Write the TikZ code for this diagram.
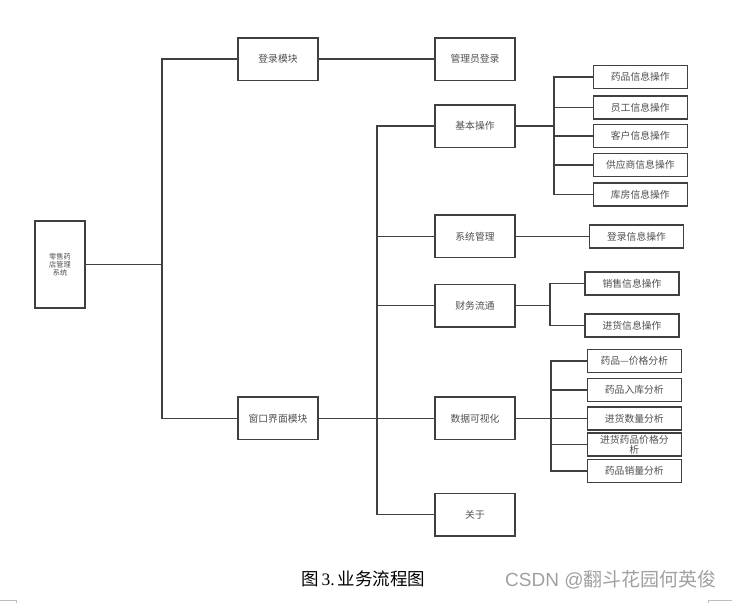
\documentclass[tikz,border=0pt]{standalone}
\usepackage{fontspec}
\setmainfont{Noto Sans CJK SC}
\newfontfamily\cjk{Noto Sans CJK SC}
\newfontfamily\latinserif{Liberation Serif}
\newfontfamily\latinsans{Liberation Sans}
\definecolor{lineclr}{RGB}{64,64,64}
\definecolor{txtclr}{RGB}{80,80,80}
\definecolor{wmclr}{RGB}{160,160,160}
\definecolor{markclr}{RGB}{190,190,190}
\tikzset{
  boxbase/.style={draw=lineclr, line width=1.5pt, fill=white, inner sep=0pt, align=center,
    text=txtclr, font=\cjk\fontsize{9.8}{9.6}\selectfont},
  rootbox/.style={boxbase, minimum width=50pt, minimum height=87pt, font=\cjk\fontsize{7.2}{8}\selectfont},
  midbox/.style={boxbase, minimum width=80pt, minimum height=42.5pt},
  leafbox/.style={boxbase, minimum width=94pt, minimum height=23pt},
  conn/.style={draw=lineclr, line width=1.5pt},
  cornermark/.style={draw=markclr, line width=0.8pt}
}
\begin{document}
\begin{tikzpicture}[x=1pt,y=-1pt]
\useasboundingbox (0,0) rectangle (732,603);
% root
\node[rootbox] (root) at (60,264.5) {零售药\\店管理\\系统};
% level 1
\node[midbox] (dl) at (278,59) {登录模块};
\node[midbox] (ck) at (278,418.3) {窗口界面模块};
\node[midbox] (gl) at (475,59) {管理员登录};
% level 2
\node[midbox] (jb) at (475,126) {基本操作};
\node[midbox] (xt) at (475,236.3) {系统管理};
\node[midbox] (cw) at (475,305.5) {财务流通};
\node[midbox] (sj) at (475,418.3) {数据可视化};
\node[midbox] (gy) at (475,514.7) {关于};
% leaves of 基本操作
\node[leafbox] (a1) at (640.3,76.8) {药品信息操作};
\node[leafbox] (a2) at (640.3,107.7) {员工信息操作};
\node[leafbox] (a3) at (640.3,135.8) {客户信息操作};
\node[leafbox] (a4) at (640.3,165.2) {供应商信息操作};
\node[leafbox] (a5) at (640.3,194.5) {库房信息操作};
% leaf of 系统管理
\node[leafbox, minimum width=93.6pt] (b1) at (636.5,236.3) {登录信息操作};
% leaves of 财务流通
\node[leafbox] (c1) at (632,283.3) {销售信息操作};
\node[leafbox] (c2) at (632,325.7) {进货信息操作};
% leaves of 数据可视化
\node[leafbox] (e1) at (634.3,361.2) {药品—价格分析};
\node[leafbox] (e2) at (634.3,389.8) {药品入库分析};
\node[leafbox] (e3) at (634.3,418.3) {进货数量分析};
\node[leafbox] (e4) at (634.3,444.7) {进货药品价格分\\析};
\node[leafbox] (e5) at (634.3,471.2) {药品销量分析};
% junction coordinates
\coordinate (t1) at (162,264.5);
\coordinate (t2) at (377,418.3);
\coordinate (bA) at (554,126);
\coordinate (bC) at (550,305.5);
\coordinate (bD) at (551,418.3);
% connectors
\draw[conn] (root.east) -- (t1);
\draw[conn] (dl.west) -| (t1) |- (ck.west);
\draw[conn] (dl.east) -- (gl.west);
\draw[conn] (ck.east) -- (sj.west);
\draw[conn] (jb.west) -| (t2) |- (gy.west);
\draw[conn] (xt.west) -- (xt.west -| t2);
\draw[conn] (cw.west) -- (cw.west -| t2);
\draw[conn] (jb.east) -- (bA);
\draw[conn] (a1.west) -| (bA) |- (a5.west);
\draw[conn] (a2.west) -- (a2.west -| bA);
\draw[conn] (a3.west) -- (a3.west -| bA);
\draw[conn] (a4.west) -- (a4.west -| bA);
\draw[conn] (xt.east) -- (b1.west);
\draw[conn] (cw.east) -- (bC);
\draw[conn] (c1.west) -| (bC) |- (c2.west);
\draw[conn] (sj.east) -- (e3.west);
\draw[conn] (e1.west) -| (bD) |- (e5.west);
\draw[conn] (e2.west) -- (e2.west -| bD);
\draw[conn] (e4.west) -- (e4.west -| bD);
% caption and watermark
\node[anchor=west, inner sep=0pt, font=\cjk\fontsize{17.5}{19}\selectfont, text=black] (cap) at (301,579) {图\,{\latinserif 3.}\,业务流程图};
\node[anchor=west, inner sep=0pt, text=wmclr, font=\fontsize{19}{21}\selectfont] (wm) at (505,580) {{\latinsans CSDN @}\cjk 翻斗花园何英俊};
% page corner marks
\coordinate (m1) at (0,600.5);
\coordinate (m2) at (16.5,600.5);
\coordinate (m3) at (16.5,603);
\draw[cornermark] (m1) -- (m2) -- (m3);
\coordinate (n1) at (708,603);
\coordinate (n2) at (708,600);
\coordinate (n3) at (732,600);
\draw[cornermark] (n1) -- (n2) -- (n3);
\end{tikzpicture}
\end{document}
